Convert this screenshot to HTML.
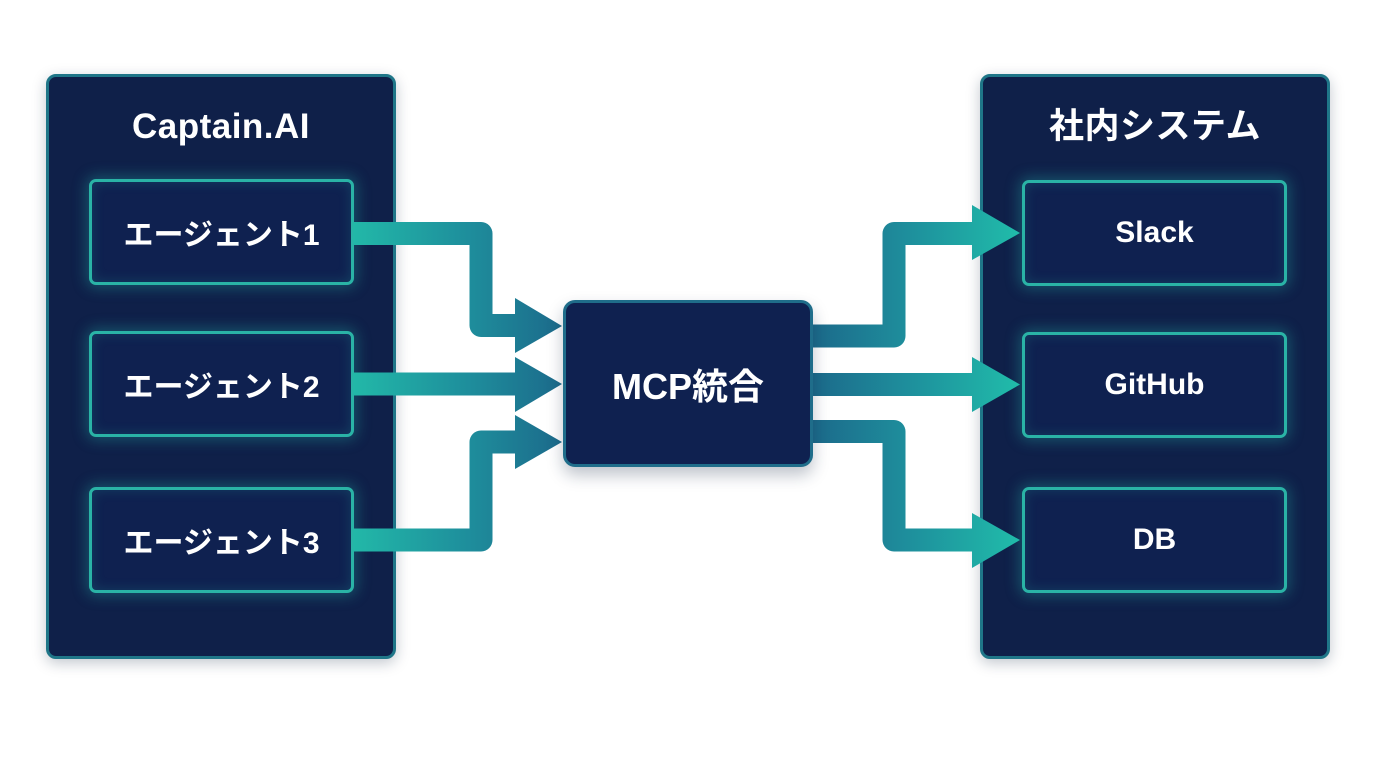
<!DOCTYPE html>
<html><head><meta charset="utf-8">
<style>
html,body{margin:0;padding:0;background:#fff;}
body{width:1376px;height:768px;position:relative;overflow:hidden;font-family:"Liberation Sans","Noto Sans CJK JP",sans-serif;}
.cont{position:absolute;top:74px;width:344px;height:579px;background:#0f2049;border:3px solid #1f7688;border-radius:10px;box-shadow:0 4px 14px rgba(10,30,60,0.25);z-index:1;}
.title{position:absolute;left:0;right:0;top:28px;height:44px;line-height:44px;text-align:center;color:#fff;font-weight:bold;font-size:35px;letter-spacing:0.5px;}
.item{position:absolute;width:259px;height:100px;background:#0f2150;border:3px solid #2ab3a6;border-radius:7px;box-shadow:0 0 14px 3px rgba(38,178,168,0.35),inset 0 0 12px rgba(38,178,168,0.22);z-index:2;display:flex;align-items:center;justify-content:center;color:#fff;font-weight:bold;font-size:30px;}
.mcp{position:absolute;left:563px;top:300px;width:244px;height:161px;background:#0f2150;border:3px solid #1f6d8a;border-radius:12px;box-shadow:0 8px 16px rgba(20,40,70,0.28);z-index:4;display:flex;align-items:center;justify-content:center;color:#fff;font-weight:bold;font-size:36px;}
svg{position:absolute;left:0;top:0;z-index:3;}
</style></head><body>
<div class="cont" style="left:46px;"><div class="title">Captain.AI</div></div>
<div class="cont" style="left:980px;"><div class="title">社内システム</div></div>

<div class="item" style="left:89px;top:179px;">エージェント1</div>
<div class="item" style="left:89px;top:331px;">エージェント2</div>
<div class="item" style="left:89px;top:487px;">エージェント3</div>

<div class="item" style="left:1022px;top:180px;">Slack</div>
<div class="item" style="left:1022px;top:332px;">GitHub</div>
<div class="item" style="left:1022px;top:487px;">DB</div>

<svg width="1376" height="768" viewBox="0 0 1376 768">
<defs>
<linearGradient id="gl" gradientUnits="userSpaceOnUse" x1="353" y1="0" x2="562" y2="0">
<stop offset="0" stop-color="#22b8a8"/>
<stop offset="0.55" stop-color="#1e8e9c"/>
<stop offset="1" stop-color="#1c6a8b"/>
</linearGradient>
<linearGradient id="gr" gradientUnits="userSpaceOnUse" x1="813" y1="0" x2="1020" y2="0">
<stop offset="0" stop-color="#1c6a8b"/>
<stop offset="0.45" stop-color="#1e8e9c"/>
<stop offset="1" stop-color="#20bcaa"/>
</linearGradient>
</defs>
<g fill="none" stroke="url(#gl)" stroke-width="23" stroke-linejoin="round">
<path d="M353 233.5 H481 V325.5 H520"/>
<path d="M353 384 H520"/>
<path d="M353 540 H481 V442 H520"/>
</g>
<g fill="url(#gl)">
<polygon points="515,298 562,326 515,353"/>
<polygon points="515,357 562,384 515,412"/>
<polygon points="515,415 562,442 515,469"/>
</g>
<g fill="none" stroke="url(#gr)" stroke-width="23" stroke-linejoin="round">
<path d="M805 336 H894 V233.5 H976"/>
<path d="M805 384.5 H976"/>
<path d="M805 431.5 H894 V540 H976"/>
</g>
<g fill="url(#gr)">
<polygon points="972,205 1020,233 972,260"/>
<polygon points="972,357 1020,384.5 972,412"/>
<polygon points="972,513 1020,540 972,568"/>
</g>
</svg>

<div class="mcp">MCP統合</div>
</body></html>
